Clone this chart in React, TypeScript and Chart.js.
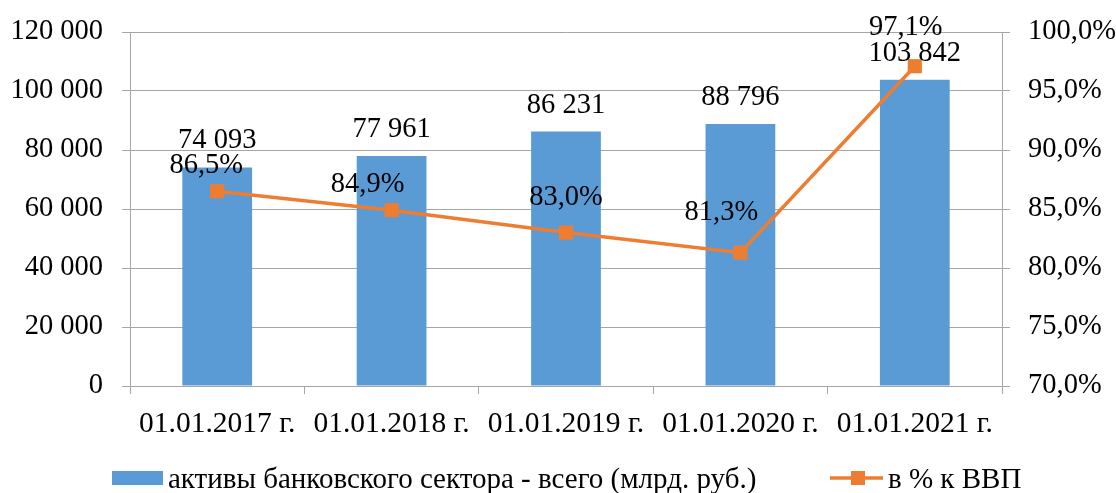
import React, { useEffect, useRef } from "react";
import { Chart, registerables } from "chart.js";

Chart.register(...registerables);

const categories = ["01.01.2017 г.", "01.01.2018 г.", "01.01.2019 г.", "01.01.2020 г.", "01.01.2021 г."];
const assets = [74093, 77961, 86231, 88796, 103842];
const gdpShare = [86.5, 84.9, 83.0, 81.3, 97.1];
const assetsLabel = "активы банковского сектора - всего (млрд. руб.)";
const gdpLabel = "в % к ВВП";

const FONT = "'Liberation Serif', 'Times New Roman', serif";
const BLUE = "#5B9BD5";
const ORANGE = "#ED7D31";
const GRID = "#A6A6A6";

const fmtInt = (n: number) => String(Math.round(n)).replace(/\B(?=(\d{3})+(?!\d))/g, " ");
const fmtPct = (v: number) => v.toFixed(1).replace(".", ",") + "%";

const labelPlugin = {
  id: "valueLabels",
  afterDatasetsDraw(chart: any, _args: any, opts: any) {
    const ctx = chart.ctx;
    ctx.save();
    ctx.font = `28.5px ${FONT}`;
    ctx.fillStyle = "#000";
    ctx.textAlign = "center";
    ctx.textBaseline = "alphabetic";
    const barMeta = chart.getDatasetMeta(0);
    barMeta.data.forEach((el: any, i: number) => {
      ctx.fillText(fmtInt(assets[i]), el.x, el.y - 19);
    });
    const lineMeta = chart.getDatasetMeta(1);
    lineMeta.data.forEach((el: any, i: number) => {
      const off = opts.pctOffsets[i] || [0, 18];
      ctx.fillText(fmtPct(gdpShare[i]), el.x + off[0], el.y - off[1]);
    });
    ctx.restore();
  },
  afterDraw(chart: any) {
    const ctx = chart.ctx;
    ctx.save();
    ctx.font = `29px ${FONT}`;
    ctx.textAlign = "left";
    ctx.textBaseline = "alphabetic";
    // legend item 1
    ctx.fillStyle = BLUE;
    ctx.fillRect(112, 471, 51, 14);
    ctx.fillStyle = "#000";
    ctx.fillText(assetsLabel, 168, 488);
    // legend item 2
    ctx.strokeStyle = ORANGE;
    ctx.lineWidth = 3.5;
    ctx.beginPath();
    ctx.moveTo(830, 478);
    ctx.lineTo(883, 478);
    ctx.stroke();
    ctx.fillStyle = ORANGE;
    ctx.fillRect(851, 471, 14, 14);
    ctx.fillStyle = "#000";
    ctx.fillText(gdpLabel, 888, 488);
    ctx.restore();
  },
};

export default function App() {
  const ref = useRef<HTMLCanvasElement | null>(null);

  useEffect(() => {
    if (!ref.current) return;
    const chart = new Chart(ref.current, {
      type: "bar",
      data: {
        labels: categories,
        datasets: [
          {
            type: "bar",
            label: assetsLabel,
            data: assets,
            backgroundColor: BLUE,
            borderWidth: 0,
            barPercentage: 0.4,
            categoryPercentage: 1,
            yAxisID: "y",
            order: 1,
          },
          {
            type: "line",
            label: gdpLabel,
            data: gdpShare,
            borderColor: ORANGE,
            backgroundColor: ORANGE,
            borderWidth: 3.5,
            pointStyle: "rect",
            pointRadius: 10,
            pointBorderWidth: 0,
            pointBackgroundColor: ORANGE,
            tension: 0,
            yAxisID: "y1",
            order: 0,
          },
        ],
      },
      options: {
        responsive: false,
        animation: false,
        layout: { autoPadding: false, padding: { top: 32, left: 0, right: 0, bottom: 0 } },
        plugins: {
          legend: { display: false },
          tooltip: { enabled: false },
          valueLabels: {
            pctOffsets: [
              [-11, 18],
              [-24, 18],
              [0, 28],
              [-19, 33],
              [-9, 31],
            ],
          },
        } as any,
        scales: {
          x: {
            offset: true,
            grid: {
              offset: true,
              drawOnChartArea: false,
              drawTicks: true,
              tickLength: 8,
              color: GRID,
            },
            border: { display: true, color: GRID },
            ticks: { color: "#000", font: { family: FONT, size: 29.5 }, padding: 13, maxRotation: 0, autoSkip: false },
            afterFit: (s: any) => {
              s.height = 107;
              s.paddingLeft = 0;
              s.paddingRight = 0;
            },
          },
          y: {
            position: "left",
            min: 0,
            max: 120000,
            ticks: {
              stepSize: 20000,
              color: "#000",
              font: { family: FONT, size: 28.5 },
              padding: 19,
              callback: (v: any) => fmtInt(Number(v)),
            },
            grid: { color: GRID, tickLength: 8, drawTicks: true },
            border: { display: true, color: GRID },
            afterFit: (s: any) => {
              s.width = 130;
              s.paddingTop = 0;
              s.paddingBottom = 0;
            },
          },
          y1: {
            position: "right",
            min: 70,
            max: 100,
            ticks: {
              stepSize: 5,
              color: "#000",
              font: { family: FONT, size: 28.5 },
              padding: 18,
              callback: (v: any) => fmtPct(Number(v)),
            },
            grid: { drawOnChartArea: false, color: GRID, tickLength: 8, drawTicks: true },
            border: { display: true, color: GRID },
            afterFit: (s: any) => {
              s.width = 114;
              s.paddingTop = 0;
              s.paddingBottom = 0;
            },
          },
        },
      },
      plugins: [labelPlugin],
    });
    return () => chart.destroy();
  }, []);

  return (
    <div style={{ position: "fixed", left: 0, top: 0, width: 1116, height: 493, background: "#fff" }}>
      <canvas ref={ref} width={1116} height={493} style={{ display: "block" }} />
    </div>
  );
}
